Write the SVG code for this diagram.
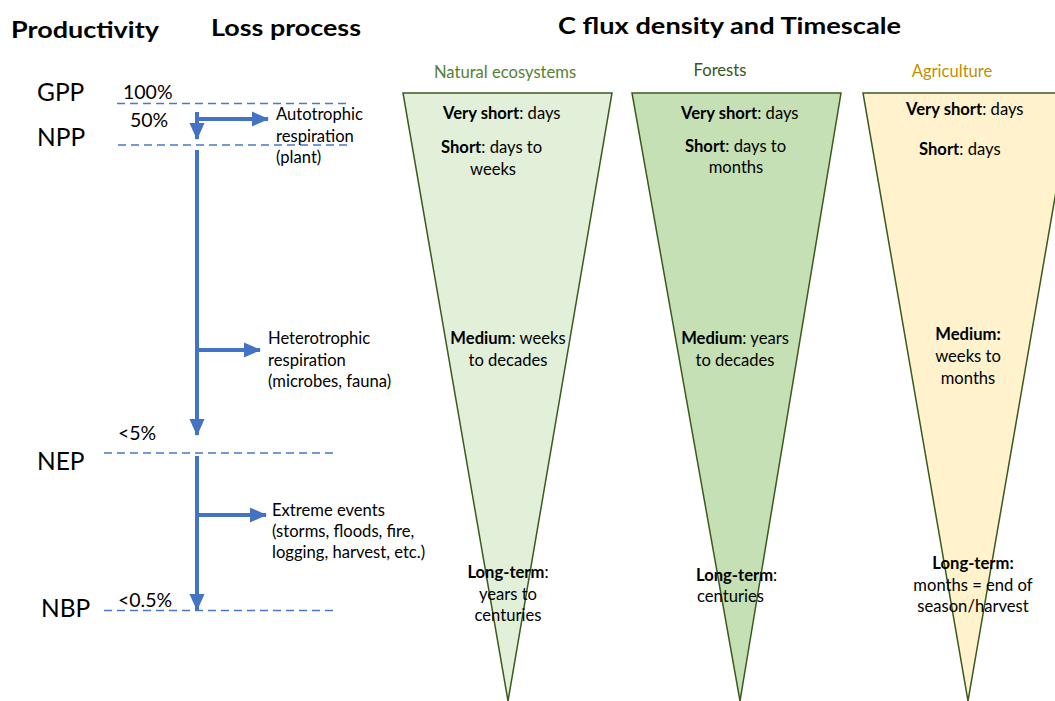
<svg xmlns="http://www.w3.org/2000/svg" width="1055" height="701" viewBox="0 0 1055 701">
<style>
.t{font-family:Lato,"Open Sans","Liberation Sans",sans-serif;fill:#000}
.h{font-weight:bold;font-size:23px}
.lbl{font-size:24.5px}
.pct{font-size:19.5px}
.b{font-size:16.6px}
.c{text-anchor:middle}
.dash{stroke:#4a78c8;stroke-width:1.3;stroke-dasharray:8 5;fill:none}
.arr{stroke:#4472c4;stroke-width:4;fill:none}
.tri{stroke:#3b5a1e;stroke-width:1.5}
.bold{font-weight:bold}
</style>
<defs>
<marker id="ah" markerUnits="userSpaceOnUse" markerWidth="18" markerHeight="18" viewBox="0 0 18 18" refX="16" refY="9" orient="auto">
<path d="M0,1.5 L17,9 L0,16.5 Z" fill="#4472c4"/>
</marker>
</defs>
<rect width="1055" height="701" fill="#fff"/>
<g id="titles">
<text class="t h" x="11" y="38" textLength="148" lengthAdjust="spacingAndGlyphs">Productivity</text>
<text class="t h" x="211" y="36" textLength="150" lengthAdjust="spacingAndGlyphs">Loss process</text>
<text class="t h" x="558" y="34" textLength="343" lengthAdjust="spacingAndGlyphs">C flux density and Timescale</text>
</g>
<g id="levels">
<text class="t lbl" x="37" y="101">GPP</text>
<text class="t lbl" x="37" y="146">NPP</text>
<text class="t lbl" x="37" y="470">NEP</text>
<text class="t lbl" x="41" y="617">NBP</text>
<text class="t pct" x="123" y="99">100%</text>
<text class="t pct" x="130" y="127">50%</text>
<text class="t pct" x="118" y="440">&lt;5%</text>
<text class="t pct" x="118" y="607">&lt;0.5%</text>
</g>
<g id="dashes">
<line class="dash" x1="117" y1="103.5" x2="347" y2="103.5"/>
<line class="dash" x1="118" y1="145" x2="348" y2="145"/>
<line class="dash" x1="104" y1="453" x2="333" y2="453"/>
<line class="dash" x1="104" y1="610.5" x2="333" y2="610.5"/>
</g>
<g id="connectors">
<line class="arr" x1="197" y1="112" x2="197" y2="139" marker-end="url(#ah)"/>
<line class="arr" x1="197" y1="119" x2="268" y2="119" marker-end="url(#ah)"/>
<line class="arr" x1="197" y1="150" x2="197" y2="435" marker-end="url(#ah)"/>
<line class="arr" x1="197" y1="350" x2="260" y2="350" marker-end="url(#ah)"/>
<line class="arr" x1="197" y1="456" x2="197" y2="610" marker-end="url(#ah)"/>
<line class="arr" x1="197" y1="515" x2="266" y2="515" marker-end="url(#ah)"/>
</g>
<g id="loss-labels">
<g id="autotrophic"><text class="t b" x="276" y="120">Autotrophic</text><text class="t b" x="276" y="142">respiration</text><text class="t b" x="276" y="163">(plant)</text></g>
<g id="heterotrophic"><text class="t b" x="268" y="344">Heterotrophic</text><text class="t b" x="268" y="366">respiration</text><text class="t b" x="268" y="387">(microbes, fauna)</text></g>
<g id="extreme"><text class="t b" x="272" y="516">Extreme events</text><text class="t b" x="272" y="537">(storms, floods, fire,</text><text class="t b" x="272" y="558">logging, harvest, etc.)</text></g>
</g>
<g id="natural">
<polygon class="tri" points="403,93 612,93 508,701" fill="#e2efd9"/>
<text class="t b c" x="505" y="78" style="fill:#548235">Natural ecosystems</text>
<text class="t b" x="443" y="119"><tspan class="bold">Very short</tspan>: days</text>
<text class="t b" x="441" y="153"><tspan class="bold">Short</tspan>: days to</text>
<text class="t b c" x="493" y="175">weeks</text>
<text class="t b c" x="508" y="344"><tspan class="bold">Medium</tspan>: weeks</text>
<text class="t b c" x="508" y="366">to decades</text>
<text class="t b c" x="508" y="578"><tspan class="bold">Long-term</tspan>:</text>
<text class="t b c" x="508" y="600">years to</text>
<text class="t b c" x="508" y="621">centuries</text>
</g>
<g id="forests">
<polygon class="tri" points="632,93 841,93 740,701" fill="#c5e0b4"/>
<text class="t b c" x="720" y="76" style="fill:#375623">Forests</text>
<text class="t b" x="681" y="119"><tspan class="bold">Very short</tspan>: days</text>
<text class="t b" x="685" y="152"><tspan class="bold">Short</tspan>: days to</text>
<text class="t b c" x="736" y="173">months</text>
<text class="t b c" x="735" y="344"><tspan class="bold">Medium</tspan>: years</text>
<text class="t b c" x="735" y="366">to decades</text>
<text class="t b" x="696" y="581"><tspan class="bold">Long-term</tspan>:</text>
<text class="t b" x="697" y="602">centuries</text>
</g>
<g id="agriculture">
<polygon class="tri" points="863,93 1073,93 968,701" fill="#fff2cc"/>
<text class="t b c" x="952" y="77" style="fill:#bf9000">Agriculture</text>
<text class="t b" x="906" y="115"><tspan class="bold">Very short</tspan>: days</text>
<text class="t b" x="919" y="155"><tspan class="bold">Short</tspan>: days</text>
<text class="t b c" x="968" y="340" font-weight="bold">Medium:</text>
<text class="t b c" x="968" y="362">weeks to</text>
<text class="t b c" x="968" y="384">months</text>
<text class="t b c" x="973" y="569" font-weight="bold">Long-term:</text>
<text class="t b c" x="973" y="591">months = end of</text>
<text class="t b c" x="973" y="612">season/harvest</text>
</g>
</svg>
